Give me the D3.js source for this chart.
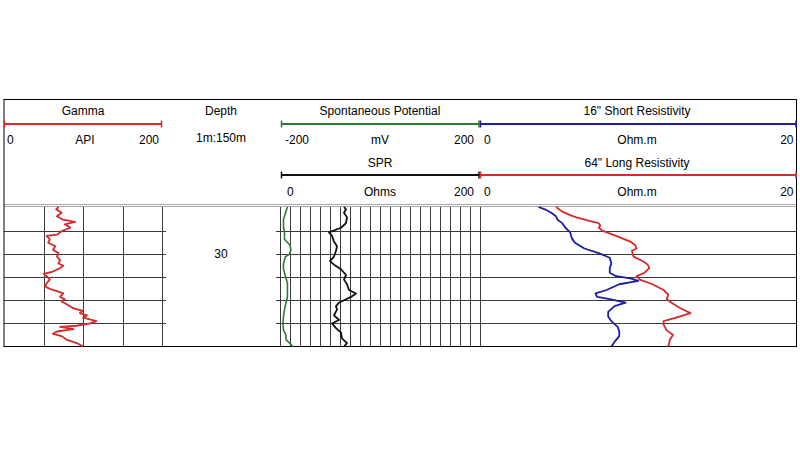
<!DOCTYPE html>
<html>
<head>
<meta charset="utf-8">
<script src="https://cdn.jsdelivr.net/npm/d3@7/dist/d3.min.js"></script>
<style>
  html, body { margin: 0; padding: 0; background: #fff; }
  svg { display: block; font-family: "Liberation Sans", Arial, sans-serif; }
</style>
</head>
<body>
<svg id="chart" width="800" height="450"></svg>
<script>
// ---------- data ----------
const depthDomain = [25.9, 38];
const depthGridLines = [28, 30, 32, 34, 36];
const depthLabels = [30];

const gammaDepth = [25.9,26.1,26.4,26.7,27.0,27.2,27.4,27.7,28.0,28.3,28.4,28.7,29.0,29.3,29.6,29.9,30.2,30.5,30.8,31.0,31.2,31.5,31.7,31.9,32.2,32.5,32.8,33.0,33.2,33.4,33.7,33.9,34.1,34.4,34.7,34.9,35.1,35.3,35.5,35.8,36.0,36.2,36.3,36.5,36.7,36.9,37.1,37.4,37.7,38.0];
const gammaAPI = [69,66,73,67,75,90,77,84,73,67,54,58,56,65,62,69,67,71,69,75,71,62,50,54,58,54,52,58,67,75,71,77,73,81,88,100,96,105,100,117,109,92,71,88,67,62,73,79,92,100];

const spDepth = [25.9,26.4,27.0,27.6,28.1,28.7,29.2,29.6,30.0,30.2,30.8,31.3,31.9,32.5,33.1,33.7,34.2,34.8,35.4,36.0,36.6,37.0,37.4,37.7,38.0];
const spMV = [-187,-191,-195,-195,-193,-193,-182,-180,-183,-191,-195,-195,-191,-187,-187,-187,-190,-193,-195,-196,-195,-190,-190,-183,-176];

const sprDepth = [25.9,26.1,26.4,26.8,27.3,27.7,28.1,28.4,28.9,29.3,29.7,30.2,30.6,30.9,31.3,31.8,32.2,32.6,33.1,33.4,33.7,33.9,34.2,34.5,34.8,35.3,35.7,36.0,36.4,36.8,37.3,37.7,38.0];
const sprOhms = [64,66,64,67,66,61,49,52,54,57,56,54,50,54,61,66,64,67,69,76,71,66,59,56,57,54,59,52,56,61,62,67,64];

const shortResDepth = [25.9,26.1,26.4,26.7,27.0,27.3,27.7,28.1,28.6,29.0,29.5,29.9,30.3,30.8,31.2,31.6,31.9,32.1,32.3,32.6,33.1,33.4,33.7,33.9,34.2,34.5,35.0,35.4,35.8,36.3,36.7,37.1,37.6,38.0];
const shortRes = [3.7,4.1,4.5,4.8,4.9,5.2,5.4,5.7,5.8,6.0,6.6,7.5,8.2,8.3,8.2,8.2,8.6,9.5,10.0,8.8,8.0,7.3,7.4,8.2,9.2,8.5,8.1,8.1,8.3,8.7,8.8,8.8,8.5,8.3];

const longResDepth = [25.9,26.3,26.6,26.8,27.1,27.3,27.5,27.7,28.0,28.4,28.9,29.2,29.5,29.7,30.2,30.6,30.9,31.2,31.6,31.9,32.2,32.6,33.1,33.5,33.9,34.2,34.7,35.1,35.5,35.8,36.1,36.6,37.0,37.4,38.0];
const longRes = [4.8,5.2,5.7,6.1,6.9,7.5,7.6,7.5,7.8,8.6,9.5,9.8,9.9,9.6,9.7,10.3,10.6,10.7,10.4,9.9,10.1,10.9,11.6,11.9,11.8,12.1,12.7,13.3,12.4,11.6,11.6,11.8,12.2,12.0,11.9];

const gammaTicks = [50, 100, 150, 200];
const sprTicks = d3.range(0, 201, 10);

// ---------- layout ----------
const svg = d3.select("#chart");
const frame = { left: 4, right: 796.5, top: 99.5, bottom: 346.5 };
const dataTop = 206.5;
const tracks = {
  gamma: [4, 162],
  depth: [162, 280],
  sp: [280, 480],
  res: [480, 796.5]
};
const C = {
  red: "#d42a2a",
  blue: "#1c1ca6",
  green: "#2f7a30",
  black: "#111",
  grid: "#3a3a3a"
};

const y = d3.scaleLinear().domain(depthDomain).range([207, 346.5]);
const xGamma = d3.scaleLinear().domain([0, 200]).range(tracks.gamma);
const xSP = d3.scaleLinear().domain([-200, 200]).range([281, 479]);
const xSPR = d3.scaleLinear().domain([0, 200]).range(tracks.sp);
const xRes = d3.scaleLinear().domain([0, 20]).range(tracks.res);

// ---------- grid ----------
const grid = svg.append("g").attr("stroke", C.grid).attr("stroke-width", 1).attr("shape-rendering", "crispEdges");

const hSegs = [[tracks.gamma[0], tracks.gamma[1] + 4], [tracks.sp[0] - 4, tracks.sp[1]], tracks.res];
hSegs.forEach(seg => {
  grid.selectAll(null).data(depthGridLines).enter().append("line")
    .attr("x1", seg[0]).attr("x2", seg[1])
    .attr("y1", d => Math.round(y(d)) + 0.5).attr("y2", d => Math.round(y(d)) + 0.5);
});
grid.selectAll(null).data(gammaTicks).enter().append("line")
  .attr("x1", d => Math.round(xGamma(d)) + 0.5).attr("x2", d => Math.round(xGamma(d)) + 0.5)
  .attr("y1", dataTop).attr("y2", frame.bottom);
grid.selectAll(null).data(sprTicks).enter().append("line")
  .attr("x1", d => Math.round(xSPR(d)) + 0.5).attr("x2", d => Math.round(xSPR(d)) + 0.5)
  .attr("y1", dataTop).attr("y2", frame.bottom);

[204.5, 206.5].forEach(yy => {
  svg.append("line").attr("x1", frame.left).attr("x2", frame.right)
    .attr("y1", yy).attr("y2", yy).attr("stroke", "#a8a8a8").attr("stroke-width", 1.2);
});

svg.append("rect").attr("x", frame.left).attr("y", frame.top)
  .attr("width", frame.right - frame.left).attr("height", frame.bottom - frame.top)
  .attr("fill", "none").attr("stroke", "#000").attr("stroke-width", 1);

// ---------- depth labels ----------
svg.selectAll(null).data(depthLabels).enter().append("text")
  .attr("x", (tracks.depth[0] + tracks.depth[1]) / 2).attr("y", d => y(d))
  .attr("dy", "0.35em").attr("text-anchor", "middle").attr("font-size", 12).attr("fill", "#000")
  .text(d => d);

// ---------- curves ----------
function drawCurve(depths, vals, xs, color, w) {
  const pts = depths.map((d, i) => [xs(vals[i]), y(d)]);
  svg.append("path").datum(pts)
    .attr("d", d3.line())
    .attr("fill", "none").attr("stroke", color).attr("stroke-width", w)
    .attr("stroke-linejoin", "round");
}
drawCurve(gammaDepth, gammaAPI, xGamma, C.red, 1.8);
drawCurve(spDepth, spMV, xSP, C.green, 1.6);
drawCurve(sprDepth, sprOhms, xSPR, C.black, 1.8);
drawCurve(longResDepth, longRes, xRes, C.red, 1.8);
drawCurve(shortResDepth, shortRes, xRes, C.blue, 1.8);

// ---------- header ----------
const hdr = svg.append("g").attr("font-size", 12).attr("fill", "#000");
function txt(x, yy, s, anchor) {
  hdr.append("text").attr("x", x).attr("y", yy).attr("dy", "0.35em")
    .attr("text-anchor", anchor || "middle").text(s);
}
function scaleBar(x1, x2, yy, color) {
  const g = svg.append("g").attr("stroke", color);
  g.append("line").attr("x1", x1).attr("x2", x2).attr("y1", yy).attr("y2", yy).attr("stroke-width", 2);
  g.append("line").attr("x1", x1 + 0.5).attr("x2", x1 + 0.5).attr("y1", yy - 3.5).attr("y2", yy + 3.5).attr("stroke-width", 1.5);
  g.append("line").attr("x1", x2 - 0.5).attr("x2", x2 - 0.5).attr("y1", yy - 3.5).attr("y2", yy + 3.5).attr("stroke-width", 1.5);
}

const gMid = (tracks.gamma[0] + tracks.gamma[1]) / 2;
txt(gMid, 110.5, "Gamma");
scaleBar(4, 162, 124, C.red);
txt(7, 140, xGamma.domain()[0], "start");
txt(gMid + 2, 140, "API");
txt(159, 140, xGamma.domain()[1], "end");

const dMid = (tracks.depth[0] + tracks.depth[1]) / 2;
txt(dMid, 110.5, "Depth");
txt(dMid, 137.5, "1m:150m");

const sMid = 380;
txt(sMid, 110.5, "Spontaneous Potential");
scaleBar(281, 479.5, 124, C.green);
txt(285, 140, xSP.domain()[0], "start");
txt(sMid, 140, "mV");
txt(474, 140, xSP.domain()[1], "end");
txt(sMid, 162.5, "SPR");
scaleBar(281, 479.5, 175, C.black);
txt(287, 191.5, xSPR.domain()[0], "start");
txt(sMid, 191.5, "Ohms");
txt(474, 191.5, xSPR.domain()[1], "end");

const rMid = 637;
txt(rMid, 110.5, "16\" Short Resistivity");
scaleBar(480, 796.5, 124, C.blue);
txt(484, 140, xRes.domain()[0], "start");
txt(rMid, 140, "Ohm.m");
txt(793.5, 140, xRes.domain()[1], "end");
txt(rMid, 162.5, "64\" Long Resistivity");
scaleBar(480, 796.5, 175, C.red);
txt(484, 191.5, xRes.domain()[0], "start");
txt(rMid, 191.5, "Ohm.m");
txt(793.5, 191.5, xRes.domain()[1], "end");
</script>
</body>
</html>
